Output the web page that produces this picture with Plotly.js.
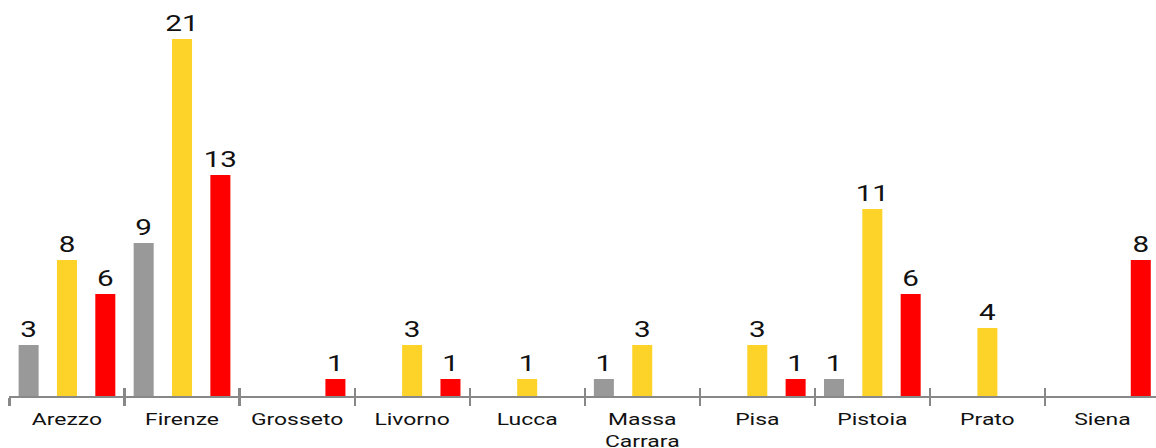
<!DOCTYPE html>
<html>
<head>
<meta charset="utf-8">
<script src="https://cdn.plot.ly/plotly-3.0.1.min.js"></script>
<style>
html,body{margin:0;padding:0;overflow:hidden;background:#fff;width:1156px;height:448px;}
#chart{width:860px;height:448px;transform-origin:0 0;transform:scaleX(1.3488);}
</style>
</head>
<body>
<div id="chart"></div>
<script>
const categories = ["Arezzo","Firenze","Grosseto","Livorno","Lucca","Massa<br>Carrara","Pisa","Pistoia","Prato","Siena"];
const grayValues   = [3, 9, 0, 0, 0, 1, 0, 1, 0, 0];
const yellowValues = [8, 21, 0, 3, 1, 3, 3, 11, 4, 0];
const redValues    = [6, 13, 1, 1, 0, 0, 1, 6, 0, 8];
const seriesColors = ["#999999", "#FDD32A", "#FF0000"];

function labels(vals){ return vals.map(v => v > 0 ? String(v) : ""); }

function barTrace(vals, color){
  return {
    type: "bar",
    x: categories,
    y: vals,
    text: labels(vals),
    textposition: "outside",
    constraintext: "none",
    cliponaxis: false,
    textfont: {family: "Roboto", size: 22, color: "#111111"},
    marker: {color: color},
    hoverinfo: "skip",
    showlegend: false
  };
}

const data = [
  barTrace(grayValues, seriesColors[0]),
  barTrace(yellowValues, seriesColors[1]),
  barTrace(redValues, seriesColors[2]),
  {
    type: "scatter", mode: "lines", x: categories, y: categories.map(() => 0),
    xaxis: "x2", line: {width: 0, color: "rgba(0,0,0,0)"}, hoverinfo: "skip", showlegend: false
  }
];

const xRange = [-0.5, categories.length - 0.5];

const layout = {
  width: 860,
  height: 448,
  margin: {l: 7.41, r: 0, t: 0, b: 52},
  paper_bgcolor: "#ffffff",
  plot_bgcolor: "#ffffff",
  barmode: "group",
  bargap: 0,
  bargroupgap: 0.478,
  font: {family: "Roboto", color: "#111111"},
  xaxis: {
    type: "category", range: xRange, autorange: false, automargin: false,
    showline: true, linecolor: "#888888", linewidth: 2,
    ticks: "outside", tickson: "boundaries", ticklen: 8, tickwidth: 1.6, tickcolor: "#888888",
    ticklabelstandoff: 7,
    tickfont: {family: "Roboto", size: 17, color: "#111111"},
    showgrid: false, zeroline: false, fixedrange: true
  },
  xaxis2: {
    type: "category", overlaying: "x", range: xRange, autorange: false, automargin: false, side: "bottom",
    showline: false, showticklabels: false,
    ticks: "inside", tickson: "boundaries", ticklen: 8, tickwidth: 1.6, tickcolor: "#888888",
    showgrid: false, zeroline: false
  },
  yaxis: {visible: false, range: [0, 23.29], fixedrange: true}
};

Plotly.newPlot("chart", data, layout, {displayModeBar: false, staticPlot: true});
</script>
</body>
</html>
